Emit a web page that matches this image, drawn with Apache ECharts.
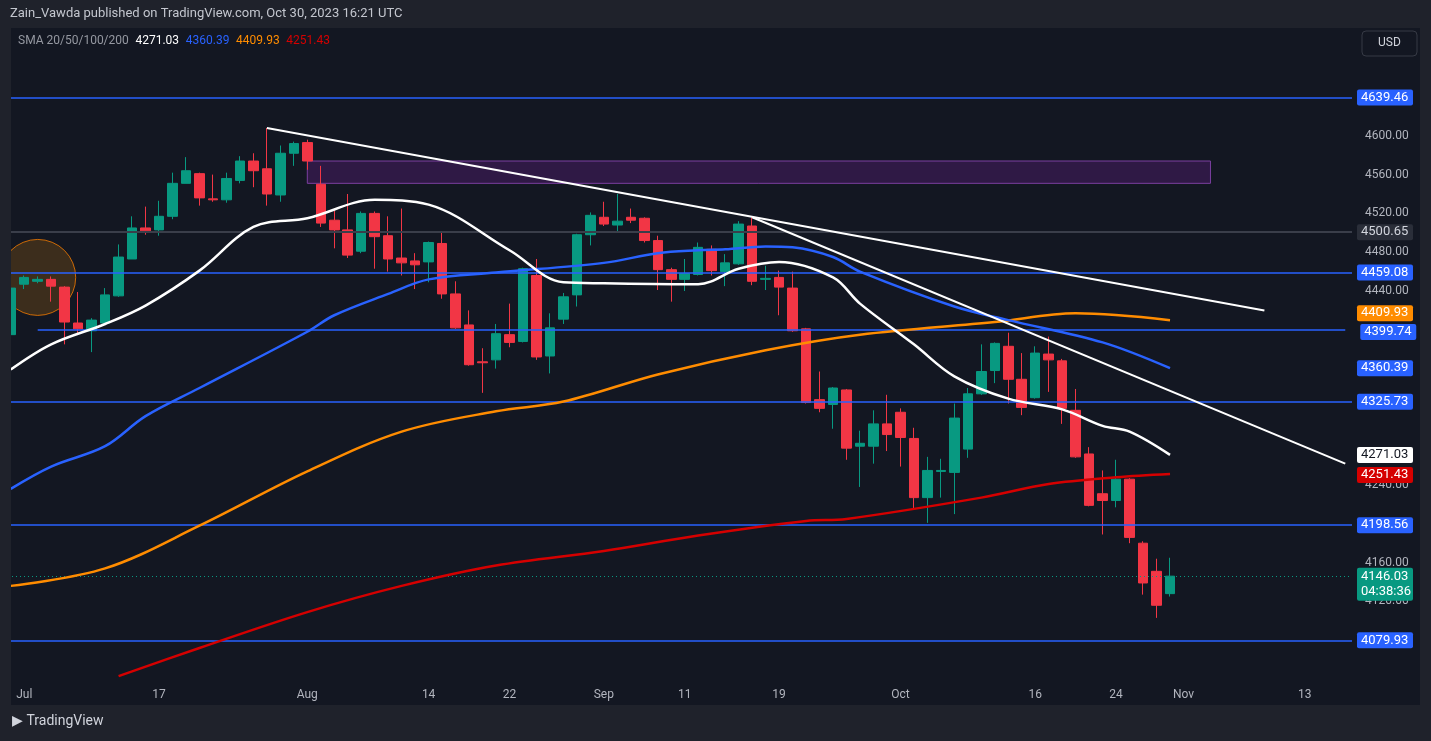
<!DOCTYPE html>
<html>
<head>
<meta charset="utf-8">
<script src="https://cdn.jsdelivr.net/npm/echarts@6/dist/echarts.min.js"></script>
<style>
html,body{margin:0;padding:0;background:#1f222b;}
#main{width:1431px;height:741px;}
</style>
</head>
<body>
<div id="main"></div>
<script>
// daily candles [open, close, low, high], Jun 30 onwards
var candles = [
  [4395,4443,4393,4445],[4447,4454,4442,4456],[4450,4452,4448,4455],[4452,4445,4429,4455],
  [4444,4408,4385,4445],[4407,4401,4396,4439],[4399,4410,4377,4412],[4407,4436,4405,4443],
  [4435,4475,4434,4488],[4473,4505,4473,4517],[4505,4502,4498,4527],[4503,4517,4497,4533],
  [4517,4551,4514,4562],[4551,4564,4551,4578],[4561,4536,4528,4562],[4535,4534,4532,4560],
  [4534,4556,4531,4562],[4554,4574,4551,4579],[4574,4564,4547,4582],[4566,4540,4528,4608],
  [4539,4582,4532,4590],[4582,4592,4569,4594],[4593,4574,4565,4596],[4550,4510,4506,4569],
  [4513,4503,4484,4523],[4503,4477,4474,4540],[4481,4520,4479,4522],[4520,4496,4463,4522],
  [4497,4473,4460,4517],[4474,4469,4456,4525],[4471,4467,4442,4479],[4470,4490,4449,4491],
  [4489,4437,4432,4500],[4437,4402,4401,4450],[4405,4364,4363,4420],[4367,4366,4335,4381],
  [4369,4396,4360,4406],[4395,4387,4382,4427],[4388,4463,4387,4464],[4456,4372,4369,4473],
  [4373,4402,4355,4417],[4411,4434,4406,4438],[4436,4498,4424,4499],[4498,4518,4487,4521],
  [4516,4509,4507,4532],[4508,4512,4500,4540],[4516,4513,4510,4525],[4515,4492,4490,4516],
  [4492,4462,4441,4497],[4462,4452,4429,4464],[4452,4458,4440,4473],[4457,4485,4456,4490],
  [4483,4461,4456,4487],[4460,4469,4445,4478],[4468,4509,4467,4512],[4507,4450,4446,4516],
  [4452,4453,4441,4466],[4454,4444,4415,4461],[4443,4399,4398,4460],[4401,4325,4324,4402],
  [4328,4319,4315,4357],[4323,4340,4298,4341],[4338,4278,4266,4339],[4280,4283,4238,4296],
  [4280,4303,4262,4317],[4303,4292,4275,4333],[4315,4289,4259,4319],[4288,4227,4216,4299],
  [4227,4255,4201,4269],[4254,4255,4227,4267],[4253,4309,4210,4324],[4277,4334,4268,4340],
  [4334,4357,4333,4385],[4358,4386,4345,4387],[4383,4349,4324,4397],[4349,4320,4312,4376],
  [4330,4376,4329,4383],[4375,4369,4336,4393],[4368,4319,4303,4370],[4317,4269,4268,4339],
  [4272,4219,4218,4279],[4231,4224,4189,4255],[4224,4246,4217,4266],[4246,4186,4180,4247],
  [4180,4139,4127,4182],[4151,4116,4103,4164],[4128,4146.03,4125,4165]
];
// moving averages: [bar index, value]
var sma20 = [[0,4359],[3,4385],[7,4406],[10,4425],[14,4461],[18,4506],[22,4515],[27,4534],[31,4529],
  [37,4482],[41,4449],[44,4448],[51,4447],[54,4463],[57,4470],[61,4454],[63,4427],[67,4385],
  [70,4352],[74,4329],[78,4318],[81,4301],[83,4295],[86,4271.03]];
var sma50 = [[0,4236],[3,4259],[7,4280],[10,4311],[14,4340],[22,4398],[24,4415],[28,4437],[31,4452],
  [36,4459],[44,4469],[48,4479],[51,4482],[53,4483],[56,4486],[58,4485],[61,4475],[63,4460],
  [70,4424],[74,4410],[81,4387],[86,4360.39]];
var sma100 = [[0,4136],[7,4154],[14,4198],[22,4254],[29,4295],[36,4316],[41,4326],[48,4354],
  [56,4379],[63,4395],[73,4408],[79,4417],[86,4409.93]];
var sma200 = [[8,4043],[14,4072],[22,4109],[29,4136],[36,4157],[44,4172],[51,4188],[59,4203],
  [62,4205],[72,4227],[77,4241],[82,4248],[86,4251.43]];
var trend1 = [[19,4608],[93,4420]];
var trend2 = [[55,4516],[99,4262]];
var levels = [4639.46, 4459.08, 4325.73, 4198.56, 4079.93];
var level2 = 4399.74;
var greyLevel = 4500.65;
var zone = [[22,4574],[89,4551]];
var circleMark = [2,4454];
var lastPrice = 4146.03;
var countdown = '04:38:36';
var tickLabels = {1:'Jul',11:'17',22:'Aug',31:'14',37:'22',44:'Sep',50:'11',57:'19',66:'Oct',76:'16',82:'24',87:'Nov',96:'13'};
var shownPrices = [4120,4160,4240,4440,4480,4520,4560,4600];

var dates = [];
var d = new Date(2023,5,30);
while (dates.length < 100) {
  if (d.getDay() != 0 && d.getDay() != 6) dates.push((d.getMonth()+1)+'/'+d.getDate());
  d.setDate(d.getDate()+1);
}

function boxLabel(txt, bg, fg, dist, dy) {
  return {show:true, position:'end', distance:dist||5, offset:[0,dy||0], formatter:txt, backgroundColor:bg, color:fg||'#fff',
    fontSize:13, fontFamily:'Roboto', padding:[2,4,1,4], borderRadius:2, width:48, align:'left'};
}
function smaLine(name, data, color, fg, dy) {
  var last = data[data.length-1][1];
  return {name:name, type:'line', data:data, smooth:0.35, symbol:'none', z:5,
    lineStyle:{color:color, width:2.5},
    markLine:{symbol:'none', silent:true, lineStyle:{width:1, color:'rgba(0,0,0,0)'},
      label:boxLabel(last.toFixed(2), color, fg, 5, dy), data:[{yAxis:last}]}};
}

var myChart = echarts.init(document.getElementById('main'));
var lineMarks = levels.map(function(v){
  return {yAxis:v, label:boxLabel(v.toFixed(2), '#2962ff')};
});
lineMarks.push([{coord:[2,level2]},{coord:[99,level2], label:boxLabel(level2.toFixed(2), '#2962ff', '#fff', 15, 2)}]);
lineMarks.push({yAxis:greyLevel, lineStyle:{color:'#3a3e4a', width:2, type:'solid'}, label:boxLabel(greyLevel.toFixed(2), '#2a2e39', '#d1d4dc')});
lineMarks.push({yAxis:lastPrice, lineStyle:{color:'#089981', width:1, type:[1,3]},
  label:{show:true, position:'end', distance:5, offset:[0,8], formatter:lastPrice.toFixed(2)+'\n'+countdown, backgroundColor:'#089981',
    color:'#fff', fontSize:13, fontFamily:'Roboto', lineHeight:15, padding:[2,4,1,4], borderRadius:2, width:48}});

var option = {
  backgroundColor:'#131722',
  animation:false,
  grid:{left:4, right:79, top:-3, bottom:62},
  xAxis:{type:'category', data:dates, boundaryGap:true,
    axisLine:{show:false}, axisTick:{show:false}, splitLine:{show:false},
    axisLabel:{interval:function(i){return tickLabels[i]!==undefined;}, formatter:function(v,i){return tickLabels[i]||'';},
      color:'#b2b5be', fontSize:12, fontFamily:'Roboto', margin:10}},
  yAxis:{type:'value', position:'right', min:4040, max:4740, interval:40, scale:true,
    axisLine:{show:false}, axisTick:{show:false}, splitLine:{show:false},
    axisLabel:{color:'#b2b5be', fontSize:12, fontFamily:'Roboto', margin:13,
      formatter:function(v){return shownPrices.indexOf(v)>=0 ? v.toFixed(2) : '';}}},
  series:[
    {type:'candlestick', data:candles, barWidth:10, z:3,
      itemStyle:{color:'#089981', color0:'#f23645', borderColor:'#089981', borderColor0:'#f23645', borderWidth:1},
      markLine:{symbol:'none', silent:true, lineStyle:{color:'#2962ff', width:1.5, type:'solid'}, data:lineMarks},
      markArea:{silent:true, itemStyle:{color:'rgba(123,31,162,0.28)', borderColor:'#7b3fa0', borderWidth:1},
        data:[[{coord:zone[0]},{coord:zone[1]}]]}},
    smaLine('SMA200', sma200, '#d50000', '#fff', 1),
    smaLine('SMA100', sma100, '#ff8c00', '#fff', -7),
    smaLine('SMA50', sma50, '#2962ff', '#fff', 0),
    smaLine('SMA20', sma20, '#ffffff', '#131722', 0),
    {type:'line', data:trend1, symbol:'none', lineStyle:{color:'#ffffff', width:2}, z:6},
    {type:'line', data:trend2, symbol:'none', lineStyle:{color:'#ffffff', width:2}, z:6},
    {type:'scatter', data:[circleMark], symbolSize:76, z:2,
      itemStyle:{color:'rgba(255,152,0,0.22)', borderColor:'#f57c00', borderWidth:1}}
  ],
  graphic:[
    {type:'rect', z:100, shape:{x:0,y:0,width:1431,height:28}, style:{fill:'#1f222b'}},
    {type:'rect', z:100, shape:{x:0,y:0,width:11,height:741}, style:{fill:'#1f222b'}},
    {type:'rect', z:100, shape:{x:1420,y:0,width:11,height:741}, style:{fill:'#1f222b'}},
    {type:'rect', z:100, shape:{x:0,y:705,width:1431,height:36}, style:{fill:'#1f222b'}},
    {type:'text', z:101, left:10, top:7, style:{text:'Zain_Vawda published on TradingView.com, Oct 30, 2023 16:21 UTC',
      fill:'#c3c6ce', fontSize:13, fontFamily:'Roboto'}},
    {type:'text', z:101, left:18, top:35, style:{
      text:'{g|SMA 20/50/100/200}  {w|4271.03}  {b|4360.39}  {o|4409.93}  {r|4251.43}',
      rich:{g:{fill:'#9598a1',fontSize:12,fontFamily:'Roboto'}, w:{fill:'#ffffff',fontSize:12,fontFamily:'Roboto'},
        b:{fill:'#2962ff',fontSize:12,fontFamily:'Roboto'}, o:{fill:'#ff8c00',fontSize:12,fontFamily:'Roboto'},
        r:{fill:'#d50000',fontSize:12,fontFamily:'Roboto'}}}},
    {type:'rect', z:101, shape:{x:1362,y:31,width:55,height:25,r:4}, style:{fill:'#131722', stroke:'#363a45', lineWidth:1}},
    {type:'text', z:102, left:1378, top:37, style:{text:'USD', fill:'#d1d4dc', fontSize:12, fontFamily:'Roboto'}},
    {type:'text', z:101, left:12, top:714, style:{text:'\u25B6 TradingView', fill:'#d1d4dc', fontSize:14, fontFamily:'Roboto'}}
  ]
};
myChart.setOption(option);
</script>
</body>
</html>
